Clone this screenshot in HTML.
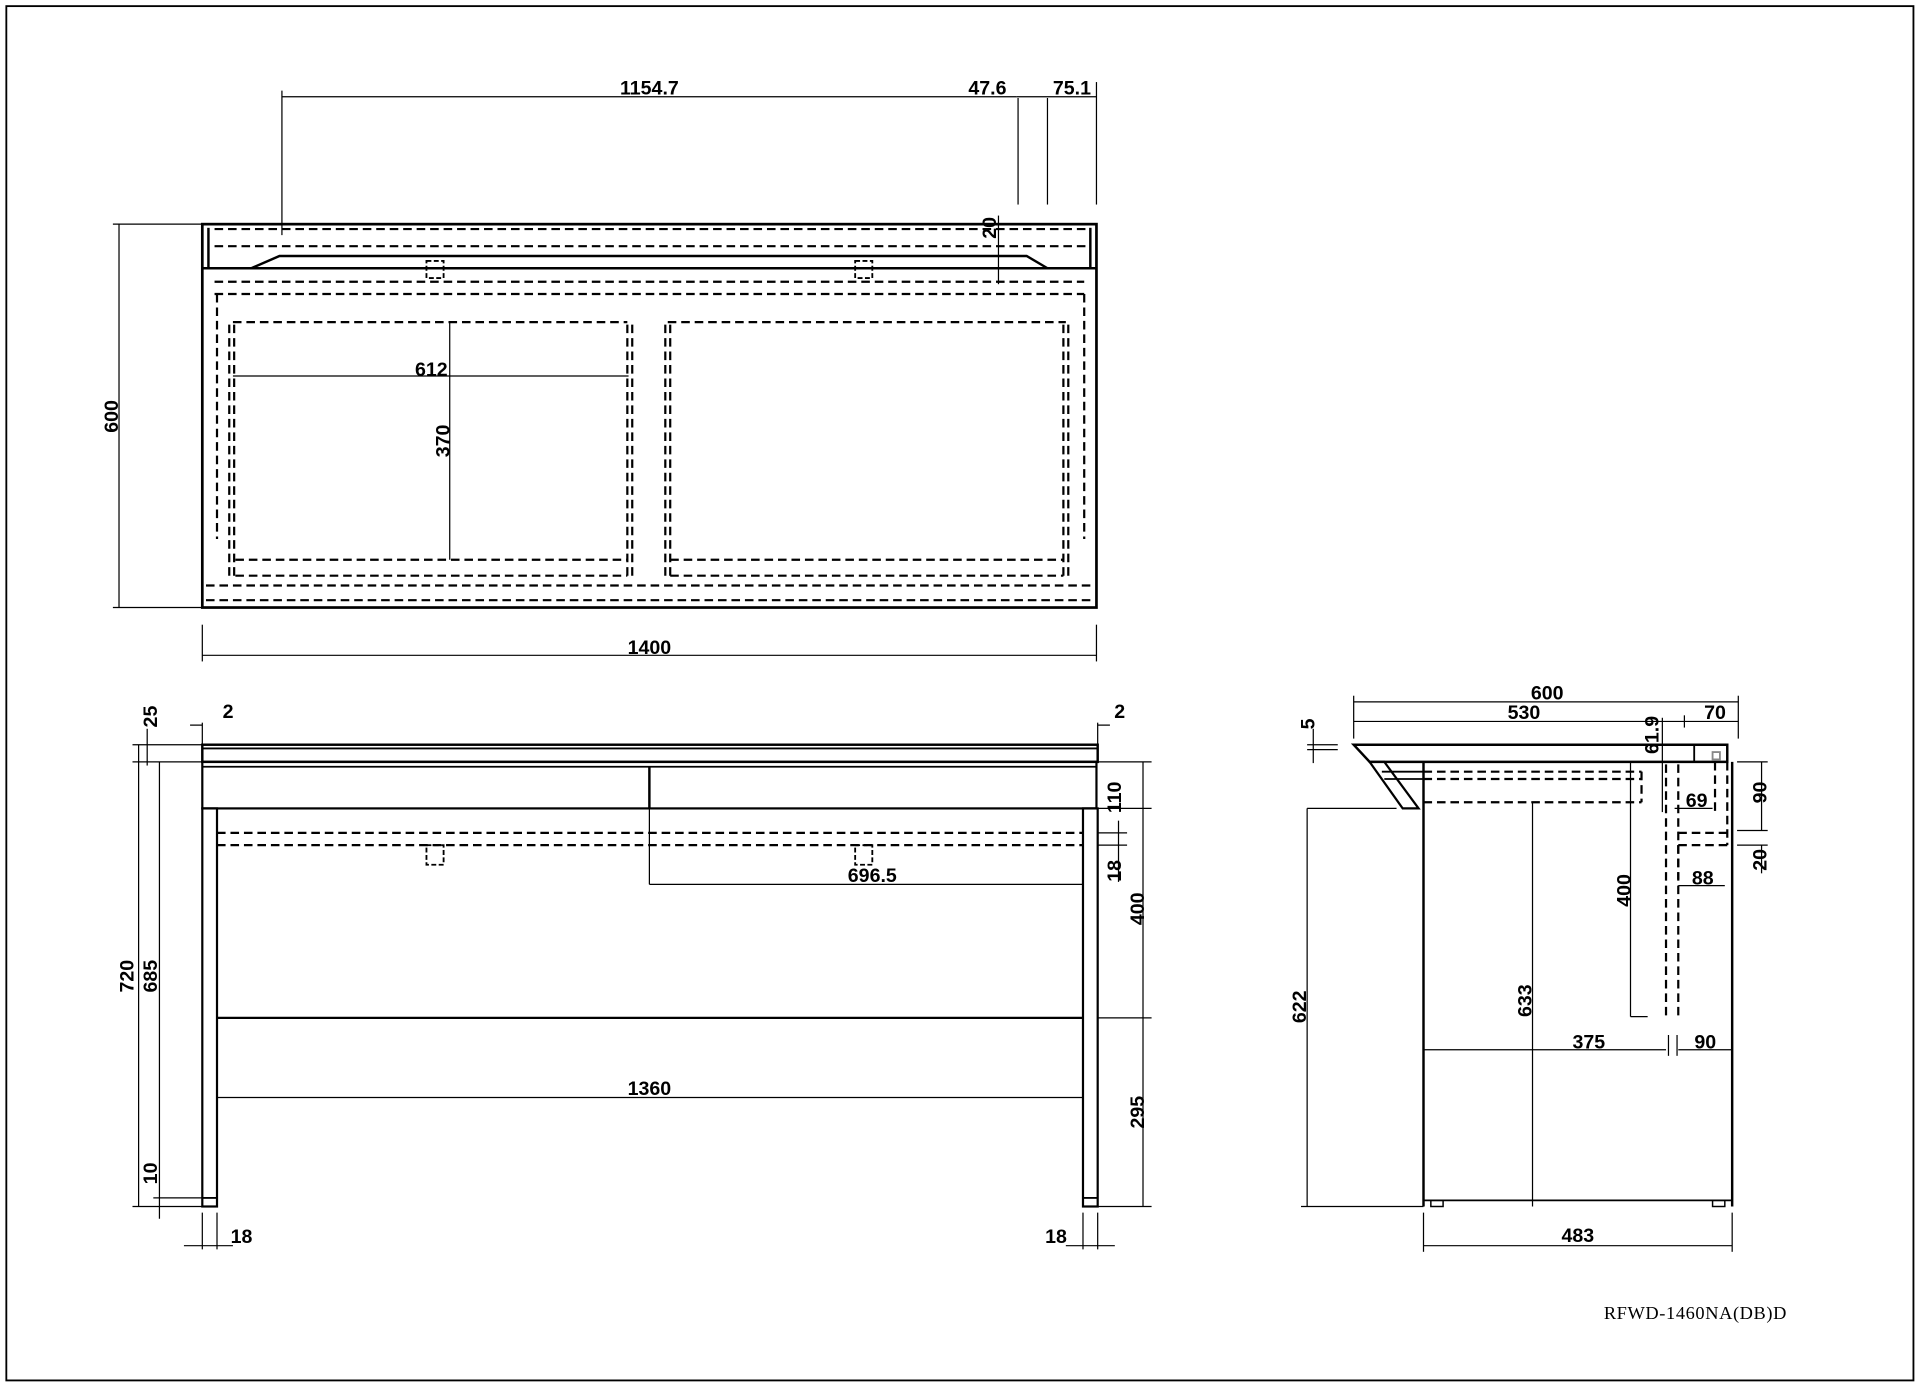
<!DOCTYPE html>
<html><head><meta charset="utf-8"><style>html,body{margin:0;padding:0;background:#fff}svg{display:block}</style></head><body>
<svg width="1921" height="1389" viewBox="0 0 1568 1134" xmlns="http://www.w3.org/2000/svg" font-family="Liberation Sans, sans-serif" font-weight="bold" font-size="16">
<rect width="1568" height="1134" fill="#fff"/>
<rect x="5" y="5" width="1557" height="1122" fill="none" stroke="#000" stroke-width="1.5"/>
<g fill="none" stroke="#000">
<!-- TOP VIEW -->
<rect x="165" y="183" width="730" height="313" stroke-width="2.2"/>
<line x1="165" y1="219" x2="895" y2="219" stroke-width="2"/>
<polyline points="205,219 228,209 838,209 855,219" stroke-width="2"/>
<line x1="170" y1="186" x2="170" y2="219" stroke-width="2"/>
<line x1="890" y1="186" x2="890" y2="219" stroke-width="2"/>
<g stroke-dasharray="7,4" stroke-width="1.8">
<line x1="175" y1="187" x2="890" y2="187"/><line x1="175" y1="201" x2="890" y2="201"/>
<line x1="175" y1="230" x2="885" y2="230"/><line x1="175" y1="240" x2="885" y2="240"/>
<line x1="177" y1="240" x2="177" y2="440"/><line x1="885" y1="240" x2="885" y2="440"/>
<line x1="168" y1="478" x2="893" y2="478"/><line x1="168" y1="490" x2="893" y2="490"/>
<line x1="190" y1="263" x2="512" y2="263"/><line x1="545" y1="263" x2="870" y2="263"/>
<line x1="192" y1="457" x2="512" y2="457"/><line x1="547" y1="457" x2="868" y2="457"/>
<line x1="192" y1="470" x2="512" y2="470"/><line x1="547" y1="470" x2="868" y2="470"/>
<line x1="187" y1="265" x2="187" y2="470"/><line x1="191" y1="265" x2="191" y2="470"/>
<line x1="512" y1="265" x2="512" y2="470"/><line x1="516" y1="265" x2="516" y2="470"/>
<line x1="543" y1="265" x2="543" y2="470"/><line x1="547" y1="265" x2="547" y2="470"/>
<line x1="868" y1="265" x2="868" y2="470"/><line x1="872" y1="265" x2="872" y2="470"/>
</g>
<rect x="348" y="213" width="14" height="14" stroke-width="1.5" stroke-dasharray="4,2"/>
<rect x="698" y="213" width="14" height="14" stroke-width="1.5" stroke-dasharray="4,2"/>
<g stroke-width="1">
<line x1="230" y1="79" x2="830" y2="79"/><line x1="830" y1="79" x2="895" y2="79"/>
<line x1="230" y1="74" x2="230" y2="192"/><line x1="831" y1="80" x2="831" y2="167"/>
<line x1="855" y1="80" x2="855" y2="167"/><line x1="895" y1="67" x2="895" y2="167"/>
<line x1="97" y1="183" x2="97" y2="496"/><line x1="92" y1="183" x2="165" y2="183"/><line x1="92" y1="496" x2="165" y2="496"/>
<line x1="165" y1="535" x2="895" y2="535"/><line x1="165" y1="510" x2="165" y2="540"/><line x1="895" y1="510" x2="895" y2="540"/>
<line x1="190" y1="307" x2="513" y2="307"/>
<line x1="367" y1="263" x2="367" y2="457"/>
<line x1="815" y1="176" x2="815" y2="232"/>
</g>
<!-- FRONT VIEW -->
<rect x="165" y="608" width="731" height="14" stroke-width="2"/>
<line x1="165" y1="611" x2="896" y2="611" stroke-width="1.5"/>
<rect x="165" y="622" width="730" height="38" stroke-width="1.8"/>
<line x1="165" y1="626" x2="895" y2="626" stroke-width="1.5"/>
<line x1="530" y1="626" x2="530" y2="660" stroke-width="2"/>
<rect x="165" y="660" width="12" height="325" stroke-width="1.8"/>
<rect x="884" y="660" width="12" height="325" stroke-width="1.8"/>
<line x1="165" y1="978" x2="177" y2="978" stroke-width="1.5"/><line x1="884" y1="978" x2="896" y2="978" stroke-width="1.5"/>
<line x1="177" y1="831" x2="884" y2="831" stroke-width="1.8"/>
<g stroke-dasharray="7,4" stroke-width="1.8">
<line x1="177" y1="680" x2="884" y2="680"/><line x1="177" y1="690" x2="884" y2="690"/>
</g>
<rect x="348" y="690" width="14" height="16" stroke-width="1.5" stroke-dasharray="4,2"/>
<rect x="698" y="690" width="14" height="16" stroke-width="1.5" stroke-dasharray="4,2"/>
<g stroke-width="1">
<line x1="120" y1="595" x2="120" y2="625"/><line x1="108" y1="608" x2="165" y2="608"/><line x1="108" y1="622" x2="165" y2="622"/>
<line x1="113" y1="608" x2="113" y2="985"/><line x1="130" y1="622" x2="130" y2="995"/>
<line x1="108" y1="985" x2="165" y2="985"/><line x1="125" y1="978" x2="165" y2="978"/>
<line x1="155" y1="592" x2="165" y2="592"/><line x1="165" y1="590" x2="165" y2="608"/>
<line x1="896" y1="590" x2="896" y2="608"/><line x1="896" y1="592" x2="906" y2="592"/>
<line x1="933" y1="622" x2="933" y2="985"/>
<line x1="896" y1="622" x2="940" y2="622"/><line x1="896" y1="660" x2="940" y2="660"/>
<line x1="896" y1="680" x2="920" y2="680"/><line x1="896" y1="690" x2="920" y2="690"/>
<line x1="896" y1="831" x2="940" y2="831"/><line x1="896" y1="985" x2="940" y2="985"/>
<line x1="913" y1="670" x2="913" y2="720"/>
<line x1="530" y1="660" x2="530" y2="722"/><line x1="530" y1="722" x2="884" y2="722"/>
<line x1="177" y1="896" x2="884" y2="896"/>
<line x1="150" y1="1017" x2="190" y2="1017"/><line x1="165" y1="990" x2="165" y2="1020"/><line x1="177" y1="990" x2="177" y2="1020"/>
<line x1="870" y1="1017" x2="910" y2="1017"/><line x1="884" y1="990" x2="884" y2="1020"/><line x1="896" y1="990" x2="896" y2="1020"/>
</g>
<!-- SIDE VIEW -->
<polygon points="1105,608 1410,608 1410,622 1118,622" stroke-width="2"/>
<line x1="1383" y1="608" x2="1383" y2="622" stroke-width="1.5"/>
<rect x="1398" y="614" width="6" height="6" stroke="#888" stroke-width="1.5"/>
<polygon points="1118,622 1145,660 1158,660 1130,622" stroke-width="1.8"/>
<line x1="1162" y1="622" x2="1162" y2="985" stroke-width="2"/>
<line x1="1414" y1="622" x2="1414" y2="985" stroke-width="2"/>
<line x1="1162" y1="980" x2="1414" y2="980" stroke-width="1.5"/>
<rect x="1168" y="980" width="10" height="5" stroke-width="1.2"/><rect x="1398" y="980" width="10" height="5" stroke-width="1.2"/>
<line x1="1128" y1="630" x2="1162" y2="630" stroke-width="1.5"/><line x1="1130" y1="636" x2="1162" y2="636" stroke-width="1.5"/>
<g stroke-dasharray="7,4" stroke-width="1.8">
<line x1="1162" y1="630" x2="1340" y2="630"/><line x1="1162" y1="636" x2="1340" y2="636"/>
<line x1="1162" y1="655" x2="1340" y2="655"/><line x1="1340" y1="630" x2="1340" y2="655"/>
<line x1="1360" y1="624" x2="1360" y2="830"/><line x1="1370" y1="624" x2="1370" y2="830"/>
<line x1="1400" y1="622" x2="1400" y2="665"/><line x1="1410" y1="622" x2="1410" y2="690"/>
<line x1="1370" y1="680" x2="1410" y2="680"/><line x1="1370" y1="690" x2="1410" y2="690"/>
<line x1="1370" y1="690" x2="1370" y2="718"/>
</g>
<g stroke-width="1">
<line x1="1105" y1="573" x2="1419" y2="573"/><line x1="1105" y1="568" x2="1105" y2="603"/><line x1="1419" y1="568" x2="1419" y2="603"/>
<line x1="1105" y1="589" x2="1419" y2="589"/><line x1="1375" y1="584" x2="1375" y2="594"/>
<line x1="1072" y1="595" x2="1072" y2="623"/><line x1="1067" y1="608" x2="1092" y2="608"/><line x1="1067" y1="612" x2="1092" y2="612"/>
<line x1="1357" y1="586" x2="1357" y2="663"/>
<line x1="1367" y1="660" x2="1398" y2="660"/><line x1="1370" y1="723" x2="1408" y2="723"/>
<line x1="1438" y1="622" x2="1438" y2="678"/><line x1="1418" y1="622" x2="1443" y2="622"/><line x1="1418" y1="678" x2="1443" y2="678"/>
<line x1="1438" y1="690" x2="1438" y2="713"/><line x1="1418" y1="690" x2="1443" y2="690"/>
<line x1="1331" y1="622" x2="1331" y2="830"/><line x1="1331" y1="830" x2="1345" y2="830"/>
<line x1="1251" y1="655" x2="1251" y2="985"/>
<line x1="1067" y1="660" x2="1140" y2="660"/><line x1="1067" y1="660" x2="1067" y2="985"/><line x1="1062" y1="985" x2="1162" y2="985"/>
<line x1="1162" y1="857" x2="1360" y2="857"/><line x1="1370" y1="857" x2="1414" y2="857"/>
<line x1="1362" y1="845" x2="1362" y2="862"/><line x1="1369" y1="845" x2="1369" y2="862"/>
<line x1="1162" y1="1017" x2="1414" y2="1017"/><line x1="1162" y1="990" x2="1162" y2="1022"/><line x1="1414" y1="990" x2="1414" y2="1022"/>
</g>
</g>
<g fill="#000" text-anchor="middle">
<text x="530" y="77">1154.7</text><text x="806" y="77">47.6</text><text x="875" y="77">75.1</text>
<text transform="translate(813,186) rotate(-90)">20</text>
<text transform="translate(96,340) rotate(-90)">600</text>
<text x="530" y="534">1400</text><text x="352" y="307">612</text>
<text transform="translate(367,360) rotate(-90)">370</text>
<text transform="translate(128,585) rotate(-90)">25</text>
<text x="186" y="586">2</text><text x="914" y="586">2</text>
<text transform="translate(109,797) rotate(-90)">720</text>
<text transform="translate(128,797) rotate(-90)">685</text>
<text transform="translate(128,958) rotate(-90)">10</text>
<text transform="translate(915,651) rotate(-90)">110</text>
<text transform="translate(915,711) rotate(-90)">18</text>
<text transform="translate(934,742) rotate(-90)">400</text>
<text transform="translate(934,908) rotate(-90)">295</text>
<text x="712" y="720">696.5</text><text x="530" y="894">1360</text>
<text x="197" y="1015">18</text><text x="862" y="1015">18</text>
<text x="1263" y="571">600</text><text x="1244" y="587">530</text><text x="1400" y="587">70</text>
<text transform="translate(1073,591) rotate(-90)">5</text>
<text transform="translate(1354,600) rotate(-90)">61.9</text>
<text x="1385" y="659">69</text><text x="1390" y="722">88</text>
<text transform="translate(1442,647) rotate(-90)">90</text>
<text transform="translate(1442,702) rotate(-90)">20</text>
<text transform="translate(1331,727) rotate(-90)">400</text>
<text transform="translate(1250,817) rotate(-90)">633</text>
<text transform="translate(1066,822) rotate(-90)">622</text>
<text x="1297" y="856">375</text><text x="1392" y="856">90</text>
<text x="1288" y="1014">483</text>
<text x="1384" y="1077" font-family="Liberation Serif, serif" font-weight="normal" font-size="15" letter-spacing="0.5">RFWD-1460NA(DB)D</text>
</g>
</svg>
</body></html>
